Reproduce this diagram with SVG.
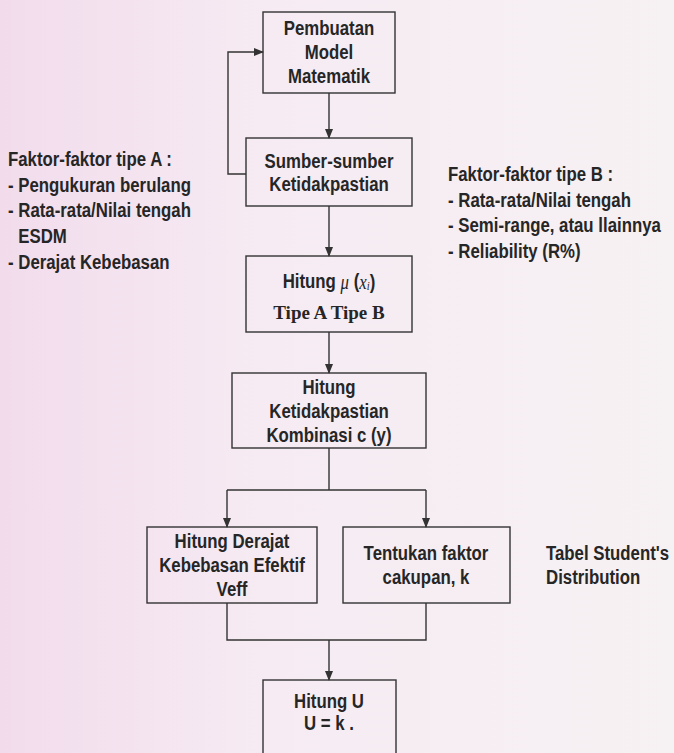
<svg xmlns="http://www.w3.org/2000/svg" width="674" height="753" viewBox="0 0 674 753">
<style>
.t{font-family:"Liberation Sans",Arial,sans-serif;font-weight:bold;font-size:20.5px;fill:#262626;dominant-baseline:central;}
.c{text-anchor:middle;}
.box{fill:none;stroke:#333333;stroke-width:1.4;}
.ln{fill:none;stroke:#333333;stroke-width:1.4;}
.ser{font-family:"Liberation Serif",serif;font-style:italic;font-weight:normal;}
.tb{font-family:"Liberation Serif",serif;font-weight:bold;font-size:19px;fill:#262626;dominant-baseline:central;text-anchor:middle;}
</style>
<defs>
<linearGradient id="bg" x1="0" y1="0" x2="1" y2="0">
<stop offset="0" stop-color="#f2dcec"/>
<stop offset="0.4" stop-color="#f6ebf3"/>
<stop offset="1" stop-color="#f6f1f3"/>
</linearGradient>
<marker id="ah" markerWidth="10" markerHeight="8" refX="9" refY="4" orient="auto" markerUnits="userSpaceOnUse">
<path d="M0,0 L10,4 L0,8 Z" fill="#333333"/>
</marker>
</defs>
<rect width="674" height="753" fill="url(#bg)"/>

<g id="connectors">
<path class="ln" d="M329,93 V138" marker-end="url(#ah)"/>
<path class="ln" d="M246,174 H228 V52 H263" marker-end="url(#ah)"/>
<path class="ln" d="M329,206 V256" marker-end="url(#ah)"/>
<path class="ln" d="M329,332 V373" marker-end="url(#ah)"/>
<path class="ln" d="M329,448 V490 M227,490 H426"/>
<path class="ln" d="M227,490 V527" marker-end="url(#ah)"/>
<path class="ln" d="M426,490 V527" marker-end="url(#ah)"/>
<path class="ln" d="M227,603 V640 H426 V603"/>
<path class="ln" d="M329,640 V680" marker-end="url(#ah)"/>
</g>

<g id="n1">
<rect class="box" x="263" y="12" width="132" height="81"/>
<g transform="translate(329,0) scale(0.82,1)">
<text class="t c" x="0" y="28">Pembuatan</text>
<text class="t c" x="0" y="52">Model</text>
<text class="t c" x="0" y="76">Matematik</text>
</g>
</g>

<g id="n2">
<rect class="box" x="246" y="138" width="166" height="68"/>
<g transform="translate(329,0) scale(0.82,1)">
<text class="t c" x="0" y="161">Sumber-sumber</text>
<text class="t c" x="0" y="184">Ketidakpastian</text>
</g>
</g>

<g id="n3">
<rect class="box" x="246" y="256" width="166" height="76"/>
<g transform="translate(329,0) scale(0.82,1)">
<text class="t c" x="0" y="281">Hitung <tspan class="ser">μ</tspan> (<tspan class="ser">x</tspan><tspan class="ser" font-size="13" dy="5">i</tspan><tspan dy="-5">)</tspan></text>
</g>
<text class="tb" x="329" y="312">Tipe A Tipe B</text>
</g>

<g id="n4">
<rect class="box" x="232" y="373" width="194" height="75"/>
<g transform="translate(329,0) scale(0.82,1)">
<text class="t c" x="0" y="387">Hitung</text>
<text class="t c" x="0" y="411">Ketidakpastian</text>
<text class="t c" x="0" y="435">Kombinasi c (y)</text>
</g>
</g>

<g id="n5">
<rect class="box" x="147" y="527" width="170" height="76"/>
<g transform="translate(232,0) scale(0.82,1)">
<text class="t c" x="0" y="541">Hitung Derajat</text>
<text class="t c" x="0" y="565">Kebebasan Efektif</text>
<text class="t c" x="0" y="589">Veff</text>
</g>
</g>

<g id="n6">
<rect class="box" x="343" y="527" width="167" height="76"/>
<g transform="translate(426,0) scale(0.82,1)">
<text class="t c" x="0" y="553">Tentukan faktor</text>
<text class="t c" x="0" y="577">cakupan, k</text>
</g>
</g>

<g id="n7" transform="translate(546,0) scale(0.82,1)">
<text class="t" x="0" y="553">Tabel Student's</text>
<text class="t" x="0" y="577">Distribution</text>
</g>

<g id="n8">
<rect class="box" x="263" y="680" width="133" height="90"/>
<g transform="translate(329,0) scale(0.82,1)">
<text class="t c" x="0" y="701">Hitung U</text>
<text class="t c" x="0" y="723">U = k .</text>
</g>
</g>

<g id="faktorA" transform="translate(8,0) scale(0.82,1)">
<text class="t" x="0" y="159">Faktor-faktor tipe A :</text>
<text class="t" x="0" y="185">- Pengukuran berulang</text>
<text class="t" x="0" y="210">- Rata-rata/Nilai tengah</text>
<text class="t" x="12.5" y="236">ESDM</text>
<text class="t" x="0" y="262">- Derajat Kebebasan</text>
</g>

<g id="faktorB" transform="translate(448,0) scale(0.82,1)">
<text class="t" x="0" y="174">Faktor-faktor tipe B :</text>
<text class="t" x="0" y="200">- Rata-rata/Nilai tengah</text>
<text class="t" x="0" y="225">- Semi-range, atau llainnya</text>
<text class="t" x="0" y="251">- Reliability (R%)</text>
</g>
</svg>
